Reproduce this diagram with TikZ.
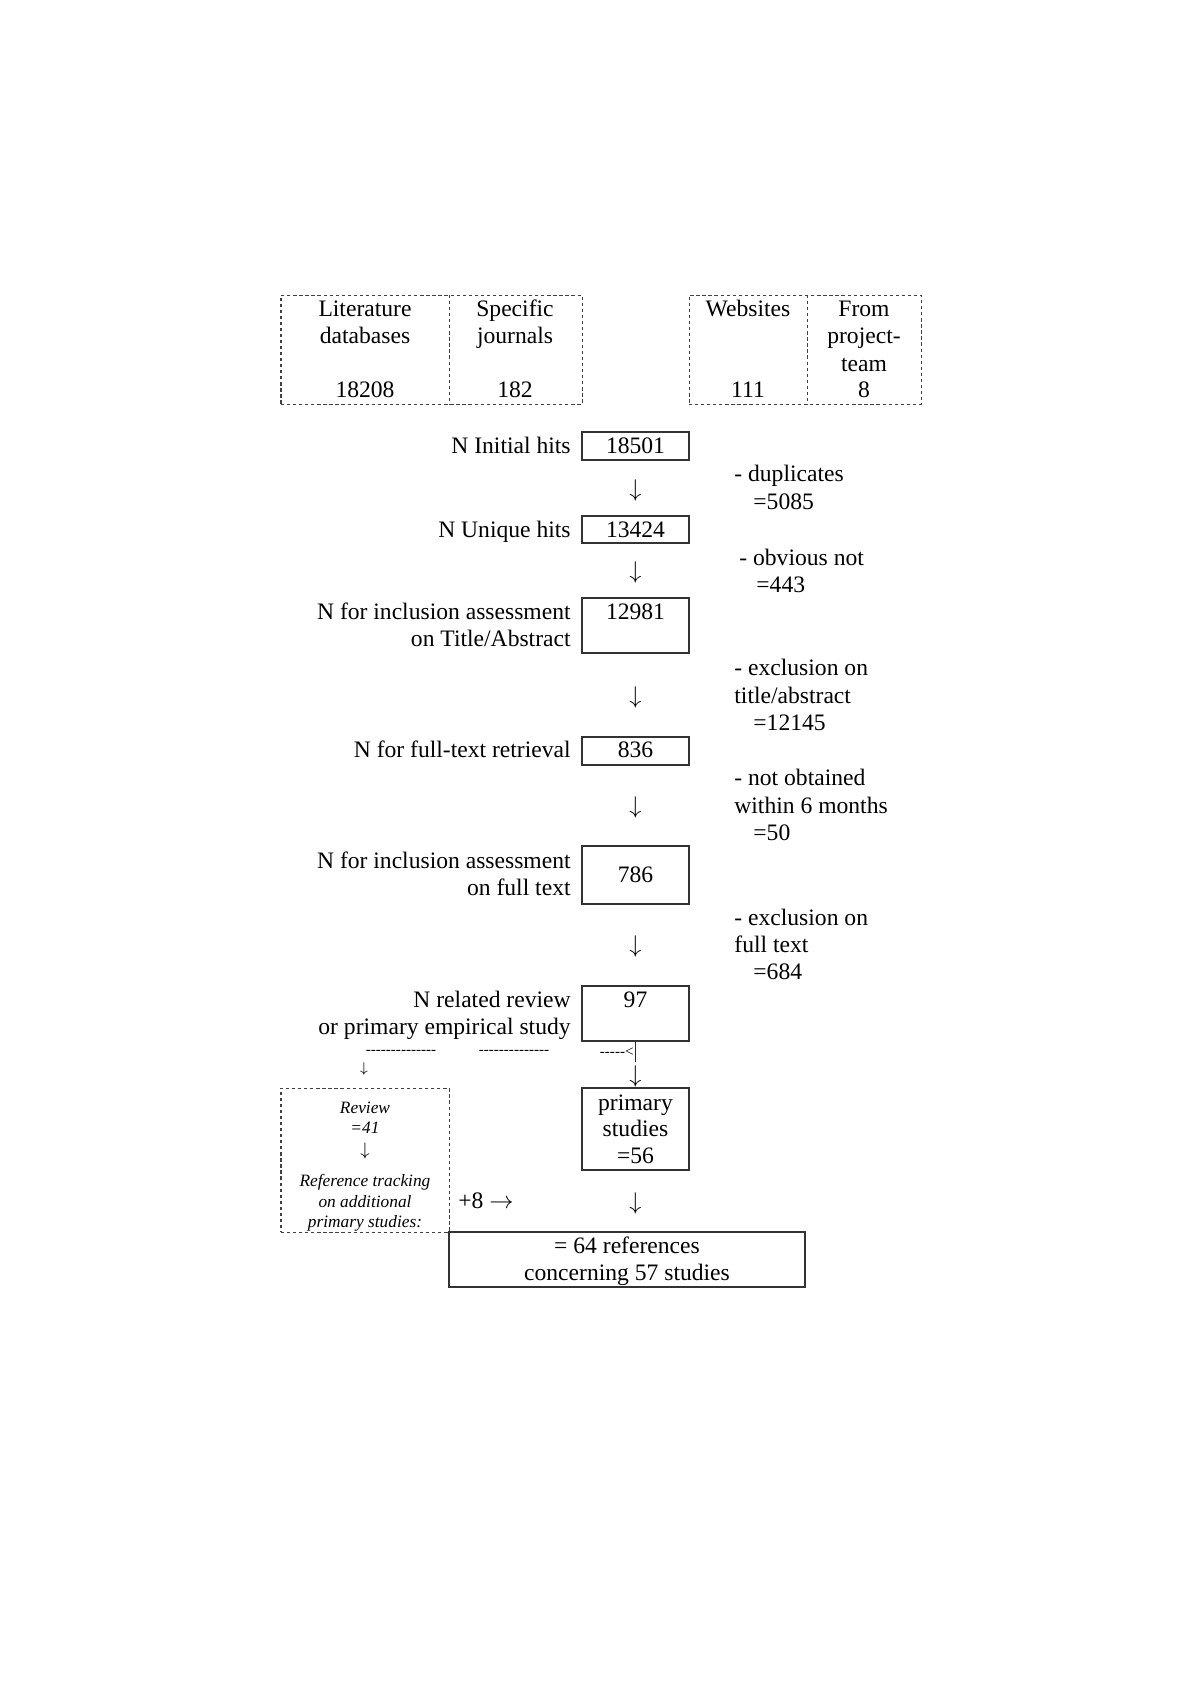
\documentclass[tikz,border=0pt]{standalone}
\usepackage{fontspec}
\setmainfont{Liberation Serif}
\usetikzlibrary{fit}
\newcommand\hyrun[1]{\foreach\i in {1,...,#1}{-\kern0pt}}
\tikzset{
  main/.style={font=\fontsize{11.7}{13.4}\selectfont, inner sep=0pt},
  lbl/.style={main, anchor=base east},
  side/.style={main, anchor=base west},
  num/.style={main, anchor=base},
  arr/.style={font=\fontsize{12}{13}\selectfont, inner sep=0pt, anchor=center},
  small/.style={font=\fontsize{7.5}{9}\selectfont, inner sep=0pt},
  rev/.style={font=\fontsize{8.6}{10.2}\selectfont\itshape, inner sep=0pt, anchor=base},
  box/.style={draw=black!80, line width=0.6pt, inner sep=0pt},
  dbox/.style={draw=black!75, line width=0.5pt, dash pattern=on 1.6pt off 1.4pt, inner sep=0pt},
  dline/.style={draw=black!75, line width=0.5pt, dash pattern=on 1.6pt off 1.4pt},
}
\begin{document}
\begin{tikzpicture}[x=0.49606pt,y=-0.49606pt]
\useasboundingbox[fill=white] (0,0) rectangle (1200,1698);
% top source boxes
\node[dbox, fit={(281,295) (582,404)}] (srcL) {};
\node[dbox, fit={(689,295) (921,404)}] (srcR) {};
\coordinate (dl1) at (449,295); \coordinate (dl2) at (449,404);
\coordinate (dr1) at (807,295); \coordinate (dr2) at (807,404);
\path[dline] (dl1) -- (dl2);
\path[dline] (dr1) -- (dr2);
\node[num] (t1a) at (365,316) {Literature};
\node[num] (t1b) at (365,343) {databases};
\node[num] (t1c) at (365,397) {18208};
\node[num] (t2a) at (515,316) {Specific};
\node[num] (t2b) at (515,343) {journals};
\node[num] (t2c) at (515,397) {182};
\node[num] (t3a) at (748,316) {Websites};
\node[num] (t3c) at (748,397) {111};
\node[num] (t4a) at (864,316) {From};
\node[num] (t4b) at (864,343) {project-};
\node[num] (t4c) at (864,371) {team};
\node[num] (t4d) at (864,397) {8};
% main column boxes
\node[box, fit={(582,432) (689,460)}] (b1) {};
\node[num] (n1) at (635.5,453) {18501};
\node[lbl] (l1) at (571,453) {N Initial hits};
\node[arr] (a1) at (635.5,490) {$\downarrow$};
\node[side] (s1a) at (734,481) {- duplicates};
\node[side] (s1b) at (753,509) {=5085};

\node[box, fit={(582,516) (689,543)}] (b2) {};
\node[num] (n2) at (635.5,537) {13424};
\node[lbl] (l2) at (571,537) {N Unique hits};
\node[arr] (a2) at (635.5,572) {$\downarrow$};
\node[side] (s2a) at (739,565) {- obvious not};
\node[side] (s2b) at (756,592) {=443};

\node[box, fit={(582,598) (689,653)}] (b3) {};
\node[num] (n3) at (635.5,619) {12981};
\node[lbl] (l3a) at (571,619) {N for inclusion assessment};
\node[lbl] (l3b) at (571,646) {on Title/Abstract};
\node[arr] (a3) at (635.5,697) {$\downarrow$};
\node[side] (s3a) at (734,675) {- exclusion on};
\node[side] (s3b) at (734,703) {title/abstract};
\node[side] (s3c) at (753,730) {=12145};

\node[box, fit={(582,737) (689,765)}] (b4) {};
\node[num] (n4) at (635.5,757) {836};
\node[lbl] (l4) at (571,757) {N for full-text retrieval};
\node[arr] (a4) at (635.5,807) {$\downarrow$};
\node[side] (s4a) at (734,785) {- not obtained};
\node[side] (s4b) at (734,813) {within 6 months};
\node[side] (s4c) at (753,840) {=50};

\node[box, fit={(582,846) (689,904)}] (b5) {};
\node[num] (n5) at (635.5,882) {786};
\node[lbl] (l5a) at (571,868) {N for inclusion assessment};
\node[lbl] (l5b) at (571,895) {on full text};
\node[arr] (a5) at (635.5,946) {$\downarrow$};
\node[side] (s5a) at (734,925) {- exclusion on};
\node[side] (s5b) at (734,952) {full text};
\node[side] (s5c) at (753,979) {=684};

\node[box, fit={(582,986) (689,1041)}] (b6) {};
\node[num] (n6) at (635.5,1007) {97};
\node[lbl] (l6a) at (571,1007) {N related review};
\node[lbl] (l6b) at (571,1034) {or primary empirical study};
% split row
\node[small, anchor=center] (d1) at (401,1052) {\hyrun{14}};
\node[small, anchor=center] (d2) at (514,1052) {\hyrun{14}};
\node[small, anchor=east] (d3) at (634,1052) {\hyrun{5}<};
\coordinate (tick) at (635.5,1062);
\draw[black!85, line width=0.6pt] (b6.south) -- (tick);
\node[small, anchor=center] (a6l) at (364,1069) {$\downarrow$};
\node[arr] (a6r) at (635.5,1076) {$\downarrow$};
% review box
\node[dbox, fit={(281,1088) (449,1232)}] (rb) {};
\node[rev] (r1) at (365,1113) {Review};
\node[rev] (r2) at (365,1133) {=41};
\node[rev, anchor=center] (r3) at (365,1151) {$\downarrow$};
\node[rev] (r4) at (365,1186) {Reference tracking};
\node[rev] (r5) at (365,1207) {on additional};
\node[rev] (r6) at (365,1227) {primary studies:};
% primary studies
\node[box, fit={(582,1088) (689,1170)}] (b7) {};
\node[num] (p1) at (635.5,1110) {primary};
\node[num] (p2) at (635.5,1136) {studies};
\node[num] (p3) at (635.5,1163) {=56};
\node[main, anchor=base] (plus) at (486,1208) {+8 $\rightarrow$};
\node[arr] (a7) at (635.5,1203) {$\downarrow$};
% final
\node[box, fit={(449,1232) (805,1287)}] (b8) {};
\node[num] (f1) at (627,1253) {= 64 references};
\node[num] (f2) at (627,1280) {concerning 57 studies};
\end{tikzpicture}
\end{document}
